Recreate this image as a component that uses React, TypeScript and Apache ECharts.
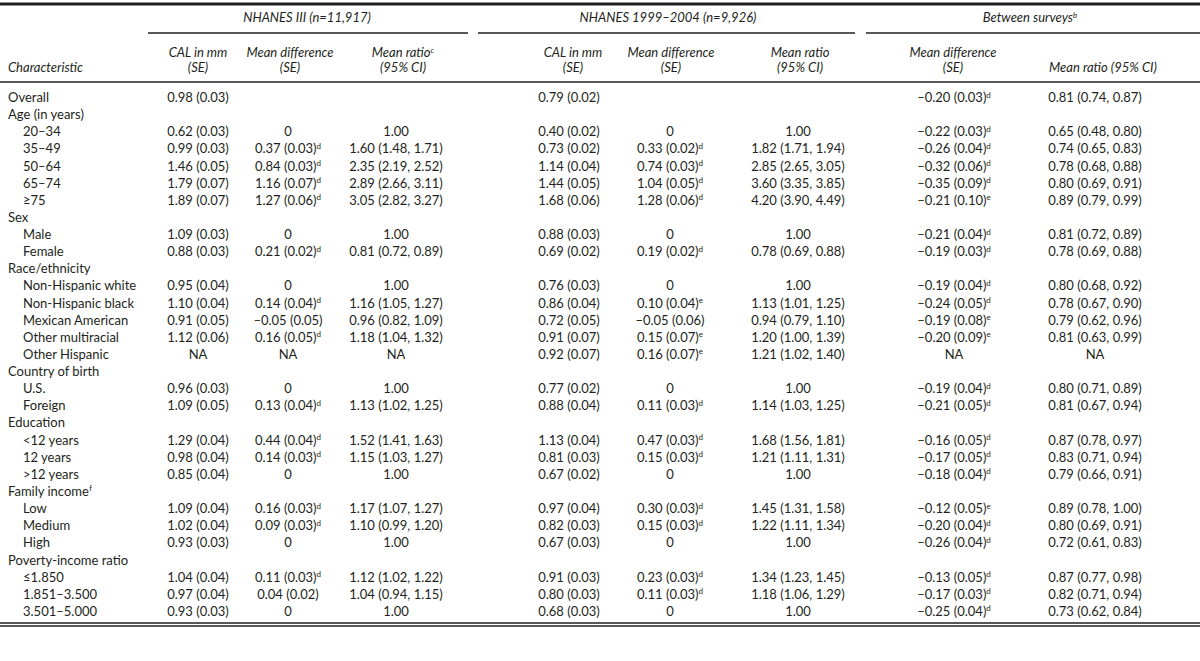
import React, { useEffect, useRef } from "react";
import * as echarts from "echarts";

// ---------- data ----------
const groupTitles = ["NHANES III (n=11,917)", "NHANES 1999–2004 (n=9,926)", "Between surveys^b"];

const headerLine1 = ["CAL in mm", "Mean difference", "Mean ratio^c", "CAL in mm", "Mean difference", "Mean ratio", "Mean difference", ""];
const headerLine2 = ["(SE)", "(SE)", "(95% CI)", "(SE)", "(SE)", "(95% CI)", "(SE)", "Mean ratio (95% CI)"];

const rowLabels = [
  "Overall", "Age (in years)", "20–34", "35–49", "50–64", "65–74", "≥75",
  "Sex", "Male", "Female",
  "Race/ethnicity", "Non-Hispanic white", "Non-Hispanic black", "Mexican American", "Other multiracial", "Other Hispanic",
  "Country of birth", "U.S.", "Foreign",
  "Education", "<12 years", "12 years", ">12 years",
  "Family income^f", "Low", "Medium", "High",
  "Poverty-income ratio", "≤1.850", "1.851–3.500", "3.501–5.000",
];
const rowIndent = [0, 0, 1, 1, 1, 1, 1, 0, 1, 1, 0, 1, 1, 1, 1, 1, 0, 1, 1, 0, 1, 1, 1, 0, 1, 1, 1, 0, 1, 1, 1];

const calIII = [
  "0.98 (0.03)", "", "0.62 (0.03)", "0.99 (0.03)", "1.46 (0.05)", "1.79 (0.07)", "1.89 (0.07)",
  "", "1.09 (0.03)", "0.88 (0.03)",
  "", "0.95 (0.04)", "1.10 (0.04)", "0.91 (0.05)", "1.12 (0.06)", "NA",
  "", "0.96 (0.03)", "1.09 (0.05)",
  "", "1.29 (0.04)", "0.98 (0.04)", "0.85 (0.04)",
  "", "1.09 (0.04)", "1.02 (0.04)", "0.93 (0.03)",
  "", "1.04 (0.04)", "0.97 (0.04)", "0.93 (0.03)",
];
const diffIII = [
  "", "", "0", "0.37 (0.03)^d", "0.84 (0.03)^d", "1.16 (0.07)^d", "1.27 (0.06)^d",
  "", "0", "0.21 (0.02)^d",
  "", "0", "0.14 (0.04)^d", "–0.05 (0.05)", "0.16 (0.05)^d", "NA",
  "", "0", "0.13 (0.04)^d",
  "", "0.44 (0.04)^d", "0.14 (0.03)^d", "0",
  "", "0.16 (0.03)^d", "0.09 (0.03)^d", "0",
  "", "0.11 (0.03)^d", "0.04 (0.02)", "0",
];
const ratioIII = [
  "", "", "1.00", "1.60 (1.48, 1.71)", "2.35 (2.19, 2.52)", "2.89 (2.66, 3.11)", "3.05 (2.82, 3.27)",
  "", "1.00", "0.81 (0.72, 0.89)",
  "", "1.00", "1.16 (1.05, 1.27)", "0.96 (0.82, 1.09)", "1.18 (1.04, 1.32)", "NA",
  "", "1.00", "1.13 (1.02, 1.25)",
  "", "1.52 (1.41, 1.63)", "1.15 (1.03, 1.27)", "1.00",
  "", "1.17 (1.07, 1.27)", "1.10 (0.99, 1.20)", "1.00",
  "", "1.12 (1.02, 1.22)", "1.04 (0.94, 1.15)", "1.00",
];
const cal9904 = [
  "0.79 (0.02)", "", "0.40 (0.02)", "0.73 (0.02)", "1.14 (0.04)", "1.44 (0.05)", "1.68 (0.06)",
  "", "0.88 (0.03)", "0.69 (0.02)",
  "", "0.76 (0.03)", "0.86 (0.04)", "0.72 (0.05)", "0.91 (0.07)", "0.92 (0.07)",
  "", "0.77 (0.02)", "0.88 (0.04)",
  "", "1.13 (0.04)", "0.81 (0.03)", "0.67 (0.02)",
  "", "0.97 (0.04)", "0.82 (0.03)", "0.67 (0.03)",
  "", "0.91 (0.03)", "0.80 (0.03)", "0.68 (0.03)",
];
const diff9904 = [
  "", "", "0", "0.33 (0.02)^d", "0.74 (0.03)^d", "1.04 (0.05)^d", "1.28 (0.06)^d",
  "", "0", "0.19 (0.02)^d",
  "", "0", "0.10 (0.04)^e", "−0.05 (0.06)", "0.15 (0.07)^e", "0.16 (0.07)^e",
  "", "0", "0.11 (0.03)^d",
  "", "0.47 (0.03)^d", "0.15 (0.03)^d", "0",
  "", "0.30 (0.03)^d", "0.15 (0.03)^d", "0",
  "", "0.23 (0.03)^d", "0.11 (0.03)^d", "0",
];
const ratio9904 = [
  "", "", "1.00", "1.82 (1.71, 1.94)", "2.85 (2.65, 3.05)", "3.60 (3.35, 3.85)", "4.20 (3.90, 4.49)",
  "", "1.00", "0.78 (0.69, 0.88)",
  "", "1.00", "1.13 (1.01, 1.25)", "0.94 (0.79, 1.10)", "1.20 (1.00, 1.39)", "1.21 (1.02, 1.40)",
  "", "1.00", "1.14 (1.03, 1.25)",
  "", "1.68 (1.56, 1.81)", "1.21 (1.11, 1.31)", "1.00",
  "", "1.45 (1.31, 1.58)", "1.22 (1.11, 1.34)", "1.00",
  "", "1.34 (1.23, 1.45)", "1.18 (1.06, 1.29)", "1.00",
];
const diffBetween = [
  "–0.20 (0.03)^d", "", "–0.22 (0.03)^d", "–0.26 (0.04)^d", "–0.32 (0.06)^d", "–0.35 (0.09)^d", "–0.21 (0.10)^e",
  "", "–0.21 (0.04)^d", "–0.19 (0.03)^d",
  "", "–0.19 (0.04)^d", "–0.24 (0.05)^d", "–0.19 (0.08)^e", "–0.20 (0.09)^e", "NA",
  "", "–0.19 (0.04)^d", "–0.21 (0.05)^d",
  "", "–0.16 (0.05)^d", "–0.17 (0.05)^d", "–0.18 (0.04)^d",
  "", "–0.12 (0.05)^e", "–0.20 (0.04)^d", "–0.26 (0.04)^d",
  "", "–0.13 (0.05)^d", "–0.17 (0.03)^d", "–0.25 (0.04)^d",
];
const ratioBetween = [
  "0.81 (0.74, 0.87)", "", "0.65 (0.48, 0.80)", "0.74 (0.65, 0.83)", "0.78 (0.68, 0.88)", "0.80 (0.69, 0.91)", "0.89 (0.79, 0.99)",
  "", "0.81 (0.72, 0.89)", "0.78 (0.69, 0.88)",
  "", "0.80 (0.68, 0.92)", "0.78 (0.67, 0.90)", "0.79 (0.62, 0.96)", "0.81 (0.63, 0.99)", "NA",
  "", "0.80 (0.71, 0.89)", "0.81 (0.67, 0.94)",
  "", "0.87 (0.78, 0.97)", "0.83 (0.71, 0.94)", "0.79 (0.66, 0.91)",
  "", "0.89 (0.78, 1.00)", "0.80 (0.69, 0.91)", "0.72 (0.61, 0.83)",
  "", "0.87 (0.77, 0.98)", "0.82 (0.71, 0.94)", "0.73 (0.62, 0.84)",
];

const dataColumns = [calIII, diffIII, ratioIII, cal9904, diff9904, ratio9904, diffBetween, ratioBetween];

// ---------- layout ----------
const FONT = "Lato, 'Open Sans', sans-serif";
const FS = 13;
const INK = "#231f20";
const W = 1200;
const H = 661;
const headerX = [198, 290, 403, 573, 671, 800, 953, 1103];
const dataX = [198, 288, 396, 569, 670, 798, 954, 1095];
const groupCenters = [307, 668, 1030];
const groupSpans = [[148, 468], [478, 855], [866, 1200]];
const Y_TOP_LINE = 4;
const Y_GROUP = 17;
const Y_GROUP_LINE = 33;
const Y_HEAD1 = 52;
const Y_HEAD2 = 67;
const Y_HEAD_LINE = 82;
const Y_ROW0 = 97;
const ROW_H = 17.13;
const LABEL_X = 8;
const INDENT = 15;

const rich = {
  v: { fontSize: FS, fontFamily: FONT, fill: INK },
  vi: { fontSize: FS, fontFamily: FONT, fill: INK, fontStyle: "italic" },
  s: { fontSize: 8, fontFamily: FONT, fill: INK, verticalAlign: "top", padding: [0, 0, 5, 0] },
  si: { fontSize: 8, fontFamily: FONT, fill: INK, fontStyle: "italic", verticalAlign: "top", padding: [0, 0, 5, 0] },
};

function toRich(t: string, italic = false) {
  const [main, sup] = t.split("^");
  const a = italic ? "vi" : "v";
  const b = italic ? "si" : "s";
  return sup ? `{${a}|${main}}{${b}|${sup}}` : `{${a}|${main}}`;
}

function textEl(t: string, x: number, y: number, align: string, italic = false) {
  return {
    type: "text",
    x,
    y,
    silent: true,
    style: {
      text: toRich(t, italic),
      rich,
      align,
      verticalAlign: "middle",
      fill: INK,
      fontSize: FS,
      fontFamily: FONT,
    },
  };
}

function lineEl(x1: number, y1: number, x2: number, y2: number, w: number, color = INK) {
  return {
    type: "line",
    silent: true,
    shape: { x1, y1, x2, y2 },
    style: { stroke: color, lineWidth: w },
  };
}

function buildElements() {
  const els: any[] = [];
  // rules
  els.push(lineEl(0, Y_TOP_LINE, W, Y_TOP_LINE, 3));
  groupSpans.forEach(([a, b]) => els.push(lineEl(a, Y_GROUP_LINE, b, Y_GROUP_LINE, 1.5)));
  els.push(lineEl(0, Y_HEAD_LINE, W, Y_HEAD_LINE, 1.5));
  const lastY = Y_ROW0 + (rowLabels.length - 1) * ROW_H;
  els.push(lineEl(0, lastY + 12, W, lastY + 12, 1.5));
  els.push(lineEl(0, lastY + 15, W, lastY + 15, 1.5));

  // group titles
  groupTitles.forEach((g, i) => els.push(textEl(g, groupCenters[i], Y_GROUP, "center", true)));
  // column headers
  els.push(textEl("Characteristic", LABEL_X, Y_HEAD2, "left", true));
  headerLine1.forEach((h, i) => {
    if (h) els.push(textEl(h, headerX[i], Y_HEAD1, "center", true));
  });
  headerLine2.forEach((h, i) => {
    if (h) els.push(textEl(h, headerX[i], Y_HEAD2, "center", true));
  });

  // rows
  rowLabels.forEach((lab, r) => {
    const y = Y_ROW0 + r * ROW_H;
    els.push(textEl(lab, LABEL_X + rowIndent[r] * INDENT, y, "left"));
    dataColumns.forEach((col, c) => {
      const v = col[r];
      if (v) els.push(textEl(v, dataX[c], y, "center"));
    });
  });
  return els;
}

export default function App() {
  const ref = useRef<HTMLDivElement>(null);
  useEffect(() => {
    document.body.style.margin = "0";
    const chart = echarts.init(ref.current!, null, { renderer: "svg" });
    chart.setOption({
      animation: false,
      backgroundColor: "#ffffff",
      graphic: { elements: buildElements() },
    });
    return () => chart.dispose();
  }, []);
  return <div ref={ref} style={{ width: W, height: H }} />;
}
